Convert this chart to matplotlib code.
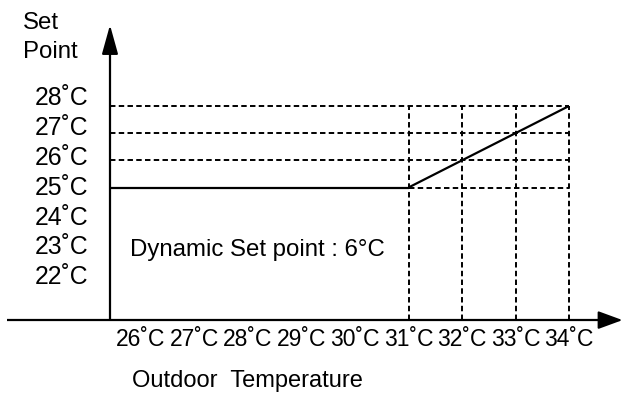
import matplotlib
matplotlib.use("Agg")
import matplotlib.pyplot as plt
import matplotlib.transforms as mtransforms

plt.rcParams["font.family"] = ["Liberation Sans", "DejaVu Sans"]

# chart values
outdoor_ticks = [26, 27, 28, 29, 30, 31, 32, 33, 34]
setpoint_ticks = [22, 23, 24, 25, 26, 27, 28]
ramp_outdoor = [31, 32, 33, 34]
ramp_setpoint = [25, 26, 27, 28]
base_setpoint = 25
note = "Dynamic Set point : 6°C"

W, H = 623, 394
fig = plt.figure(figsize=(W / 100, H / 100), dpi=100)
ax = fig.add_axes([0, 0, 1, 1])
ax.set_xlim(23.364, 35.009)
ax.set_ylim(17.40, 31.901)
ax.axis("off")

x0, y0 = 25.42, 20.12        # where the hand-drawn axes cross
x_end, y_end = 35.0, 30.98   # arrow tips

dash = (0, (2.8, 1.7))
# dashed guide lines
for s in ramp_setpoint:
    start = ramp_outdoor[0] if s == base_setpoint else x0
    ax.plot([start, ramp_outdoor[-1]], [s, s], color="black", lw=1.4, ls=dash)
for t in ramp_outdoor:
    ax.plot([t, t], [y0, ramp_setpoint[-1]], color="black", lw=1.4, ls=dash)

# set point curve: flat, then ramp
ax.plot([x0, ramp_outdoor[0]], [base_setpoint, base_setpoint], color="black", lw=1.6,
        solid_capstyle="butt")
ax.plot(ramp_outdoor, ramp_setpoint, color="black", lw=1.6, solid_capstyle="butt")

# axes with arrow heads
ax.plot([23.495, x_end - 0.3], [y0, y0], color="black", lw=1.6, solid_capstyle="butt")
ax.plot([x0, x0], [y0, y_end - 0.6], color="black", lw=1.6, solid_capstyle="butt")
ax.annotate("", xy=(x_end, y0), xytext=(x_end - 0.45, y0),
            arrowprops=dict(arrowstyle="-|>,head_length=1.5,head_width=0.55",
                            mutation_scale=10, color="black", lw=1.5,
                            shrinkA=0, shrinkB=0))
ax.annotate("", xy=(x0, y_end), xytext=(x0, y_end - 1.0),
            arrowprops=dict(arrowstyle="-|>,head_length=1.8,head_width=0.5",
                            mutation_scale=10, color="black", lw=1.5,
                            shrinkA=0, shrinkB=0))

# tick labels
xtrans = mtransforms.blended_transform_factory(ax.transData, fig.transFigure)
for t in outdoor_ticks:
    ax.text(t, 1 - 340 / H, f"{t}\u02daC", transform=xtrans, ha="center", va="center",
            fontsize=16.5)
ytrans = mtransforms.blended_transform_factory(fig.transFigure, ax.transData)
for s in setpoint_ticks:
    ax.text(88 / W, base_setpoint + (s - base_setpoint) * 1.104, f"{s}\u02daC",
            transform=ytrans, ha="right", va="center", fontsize=17.8)

fig.text(23 / W, 1 - 23 / H, "Set", ha="left", va="center", fontsize=17.3)
fig.text(23 / W, 1 - 52 / H, "Point", ha="left", va="center", fontsize=17.3)
fig.text(132 / W, 1 - 381 / H, "Outdoor  Temperature", ha="left", va="center", fontsize=17)
fig.text(130 / W, 1 - 250 / H, note, ha="left", va="center", fontsize=17.3)

fig.savefig("out.png", dpi=100)
